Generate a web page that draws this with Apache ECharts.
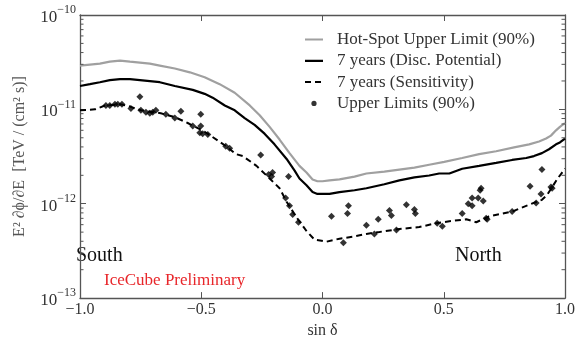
<!DOCTYPE html>
<html>
<head>
<meta charset="utf-8">
<script src="https://cdn.jsdelivr.net/npm/echarts@6/dist/echarts.min.js"></script>
<style>html,body{margin:0;padding:0;background:#fff}#c{width:578px;height:344px}</style>
</head>
<body>
<div id="c"></div>
<script>
// sin(delta), flux pairs
const hotSpotLimit = [
[-1.000,2.91e-11],[-0.959,2.98e-11],[-0.918,3.05e-11],[-0.877,3.20e-11],[-0.835,3.28e-11],[-0.794,3.20e-11],
[-0.753,3.13e-11],[-0.712,3.05e-11],[-0.671,2.91e-11],[-0.609,2.71e-11],[-0.547,2.47e-11],[-0.486,2.19e-11],
[-0.424,1.85e-11],[-0.362,1.50e-11],[-0.300,1.10e-11],[-0.259,8.67e-12],[-0.218,6.52e-12],[-0.177,4.79e-12],
[-0.136,3.44e-12],[-0.095,2.52e-12],[-0.066,2.14e-12],[-0.041,1.81e-12],[-0.021,1.73e-12],[0.000,1.73e-12],
[0.029,1.77e-12],[0.070,1.81e-12],[0.132,1.94e-12],[0.181,2.09e-12],[0.255,2.19e-12],[0.317,2.30e-12],
[0.379,2.41e-12],[0.440,2.59e-12],[0.502,2.78e-12],[0.576,3.05e-12],[0.646,3.36e-12],[0.716,3.60e-12],
[0.790,3.96e-12],[0.852,4.26e-12],[0.893,4.57e-12],[0.922,4.91e-12],[0.942,5.27e-12],[0.963,6.0e-12],
[0.979,6.52e-12],[1.000,7.17e-12]
];
const discPotential = [
[-1.000,1.77e-11],[-0.959,1.85e-11],[-0.918,1.94e-11],[-0.877,2.04e-11],[-0.835,2.09e-11],[-0.794,2.09e-11],
[-0.753,2.04e-11],[-0.712,1.99e-11],[-0.671,1.94e-11],[-0.609,1.77e-11],[-0.535,1.61e-11],[-0.486,1.46e-11],
[-0.453,1.33e-11],[-0.403,1.10e-11],[-0.362,9.77e-12],[-0.321,8.08e-12],[-0.280,6.84e-12],[-0.239,5.53e-12],
[-0.198,4.26e-12],[-0.148,2.98e-12],[-0.115,2.24e-12],[-0.095,1.85e-12],[-0.066,1.57e-12],[-0.041,1.33e-12],
[-0.021,1.27e-12],[0.000,1.27e-12],[0.029,1.27e-12],[0.070,1.33e-12],[0.132,1.39e-12],[0.181,1.46e-12],
[0.255,1.61e-12],[0.317,1.77e-12],[0.379,1.90e-12],[0.440,1.99e-12],[0.481,2.09e-12],[0.523,2.09e-12],
[0.576,2.35e-12],[0.646,2.52e-12],[0.716,2.71e-12],[0.782,2.91e-12],[0.840,3.05e-12],[0.872,3.20e-12],
[0.905,3.44e-12],[0.934,3.78e-12],[0.963,4.26e-12],[0.979,4.46e-12],[1.000,4.91e-12]
];
const sensitivity = [
[-1.000,9.77e-12],[-0.938,1.00e-11],[-0.897,1.10e-11],[-0.831,1.13e-11],[-0.794,1.07e-11],[-0.749,9.77e-12],
[-0.667,9.10e-12],[-0.609,8.27e-12],[-0.556,7.17e-12],[-0.486,5.79e-12],[-0.432,4.68e-12],[-0.391,3.96e-12],
[-0.358,3.36e-12],[-0.329,3.20e-12],[-0.272,2.52e-12],[-0.218,1.85e-12],[-0.177,1.46e-12],[-0.148,1.05e-12],
[-0.107,7.17e-13],[-0.066,5.14e-13],[-0.033,4.16e-13],[-0.004,4.06e-13],[0.016,3.96e-13],[0.070,4.26e-13],
[0.123,4.46e-13],[0.181,4.79e-13],[0.235,5.02e-13],[0.317,5.40e-13],[0.399,5.66e-13],[0.469,6.22e-13],
[0.523,6.52e-13],[0.593,6.84e-13],[0.634,6.37e-13],[0.687,7.35e-13],[0.782,8.27e-13],[0.852,9.77e-13],
[0.905,1.10e-12],[0.926,1.24e-12],[0.947,1.50e-12],[0.967,1.81e-12],[0.988,2.14e-12],[1.000,2.35e-12]
];
const upperLimits = [
[-0.893,1.10e-11],[-0.877,1.10e-11],[-0.856,1.13e-11],[-0.844,1.13e-11],[-0.827,1.13e-11],[-0.790,1.02e-11],
[-0.753,1.36e-11],[-0.749,9.77e-12],[-0.728,9.31e-12],[-0.712,9.10e-12],[-0.700,9.31e-12],[-0.687,9.77e-12],
[-0.646,8.88e-12],[-0.609,8.08e-12],[-0.584,9.54e-12],[-0.535,6.68e-12],[-0.502,8.88e-12],[-0.502,6.68e-12],
[-0.506,5.66e-12],[-0.494,5.53e-12],[-0.473,5.40e-12],[-0.399,4.06e-12],[-0.383,3.87e-12],[-0.255,3.28e-12],
[-0.222,2.04e-12],[-0.206,2.14e-12],[-0.210,1.94e-12],[-0.140,1.94e-12],[-0.152,1.15e-12],[-0.136,9.54e-13],
[-0.123,7.70e-13],[-0.099,6.37e-13],[0.037,7.35e-13],[0.103,7.89e-13],[0.107,9.54e-13],[0.086,3.87e-13],
[0.181,5.93e-13],[0.214,4.79e-13],[0.230,6.84e-13],[0.276,8.47e-13],[0.284,7.52e-13],[0.346,9.77e-13],
[0.379,8.67e-13],[0.383,7.89e-13],[0.305,5.27e-13],[0.473,6.22e-13],[0.494,5.79e-13],[0.576,7.89e-13],
[0.601,1.00e-12],[0.617,9.54e-13],[0.617,1.15e-12],[0.642,1.15e-12],[0.650,1.39e-12],[0.654,1.46e-12],
[0.663,1.07e-12],[0.675,7.00e-13],[0.679,6.84e-13],[0.782,8.27e-13],[0.856,1.53e-12],[0.881,1.02e-12],
[0.901,1.27e-12],[0.905,2.30e-12],[0.942,1.50e-12],[0.947,1.46e-12]
];
const minorTickValues = [2e-13,3e-13,4e-13,5e-13,6e-13,7e-13,8e-13,9e-13,
  2e-12,3e-12,4e-12,5e-12,6e-12,7e-12,8e-12,9e-12,
  2e-11,3e-11,4e-11,5e-11,6e-11,7e-11,8e-11,9e-11];
const names = ['Hot-Spot Upper Limit (90%)','7 years (Disc. Potential)','7 years (Sensitivity)','Upper Limits (90%)'];

const FONT = 'Liberation Serif';
const AX = '#555';
const TXT = '#333';
const chart = echarts.init(document.getElementById('c'), null, {renderer:'canvas'});
const xFmt = v => (v < 0 ? '\u2212' : '') + Math.abs(v).toFixed(1);
const yFmt = v => { const e = Math.round(Math.log10(v)); return '{b|10}{s|' + (e < 0 ? '\u2212' : '') + Math.abs(e) + '}'; };
const axLine = {show:true, onZero:false, lineStyle:{color:AX, width:1.3}};
const svgIcon = (inner) => 'image://data:image/svg+xml;charset=utf-8,' + encodeURIComponent(
  '<svg xmlns="http://www.w3.org/2000/svg" width="18" height="14" viewBox="0 0 18 14">' + inner + '</svg>');
const iconGrey = svgIcon('<line x1="0" y1="7" x2="18" y2="7" stroke="#a0a0a0" stroke-width="2.2"/>');
const iconBlack = svgIcon('<line x1="0" y1="7" x2="18" y2="7" stroke="#000" stroke-width="2.2"/>');
const iconDash = svgIcon('<line x1="0" y1="7" x2="18" y2="7" stroke="#000" stroke-width="2" stroke-dasharray="6,4"/>');
const iconDot = svgIcon('<circle cx="9" cy="7" r="2.6" fill="#000"/>');
chart.setOption({
  animation:false,
  grid:{left:80, right:12, top:15, bottom:38, containLabel:false},
  legend:{
    orient:'vertical', left:300, top:26, itemWidth:18, itemHeight:14, itemGap:4.3,
    textStyle:{fontFamily:FONT, fontSize:17, color:TXT, lineHeight:14, padding:[0,0,0,9]},
    data:[
      {name:names[0], icon:iconGrey},{name:names[1], icon:iconBlack},{name:names[2], icon:iconDash},
      {name:names[3], icon:iconDot}
    ]
  },
  xAxis:[{
    type:'value', min:-1, max:1, interval:0.5, position:'bottom',
    axisLine:axLine, splitLine:{show:false},
    axisTick:{inside:true, length:6, lineStyle:{color:AX}},
    axisLabel:{margin:4, fontFamily:FONT, fontSize:16, color:TXT, formatter:xFmt},
    name:'sin \u03b4', nameLocation:'middle', nameGap:22,
    nameTextStyle:{fontFamily:FONT, fontSize:16, color:TXT}
  },{
    type:'value', min:-1, max:1, interval:0.5, position:'top',
    axisLine:axLine, splitLine:{show:false},
    axisTick:{inside:true, length:6, lineStyle:{color:AX}}, axisLabel:{show:false}
  }],
  yAxis:[{
    type:'log', logBase:10, min:1e-13, max:1e-10, position:'left',
    axisLine:axLine, splitLine:{show:false},
    axisTick:{inside:true, length:6, lineStyle:{color:AX}},
    axisLabel:{margin:4, formatter:yFmt, rich:{
      b:{fontFamily:FONT, fontSize:17, color:TXT, lineHeight:22, verticalAlign:'bottom'},
      s:{fontFamily:FONT, fontSize:12, color:TXT, verticalAlign:'top', lineHeight:12}
    }},
    name:'E\u00b2 \u2202\u03d5/\u2202E  [TeV / (cm\u00b2 s)]', nameLocation:'middle', nameGap:52, nameRotate:90,
    nameTextStyle:{fontFamily:FONT, fontSize:16, color:'#555'}
  },{
    type:'log', logBase:10, min:1e-13, max:1e-10, position:'right',
    axisLine:axLine, splitLine:{show:false},
    axisTick:{inside:true, length:6, lineStyle:{color:AX}}, axisLabel:{show:false}
  }],
  graphic:[
    {type:'text', left:76, top:246, style:{text:'South', font:'20px "Liberation Serif"', fill:'#111'}},
    {type:'text', left:455, top:246, style:{text:'North', font:'20px "Liberation Serif"', fill:'#111'}},
    {type:'text', left:104, top:272, style:{text:'IceCube Preliminary', font:'17px "Liberation Serif"', fill:'#e8262a'}}
  ],
  series:[
    {name:names[0], type:'line', data:hotSpotLimit, symbol:'none', lineStyle:{color:'#a0a0a0', width:2.2}, itemStyle:{color:'#a0a0a0'}, z:3},
    {name:names[1], type:'line', data:discPotential, symbol:'none', lineStyle:{color:'#000', width:2.2}, itemStyle:{color:'#000'}, z:3},
    {name:names[2], type:'line', data:sensitivity, symbol:'none', lineStyle:{color:'#000', width:2, type:[6,4]}, itemStyle:{color:'#000'}, z:3},
    {name:names[3], type:'scatter', data:upperLimits, symbol:'diamond', symbolSize:[7,7], itemStyle:{color:'#000'}, z:4},
    {name:'minor', type:'custom', silent:true, z:5,
     data:minorTickValues.map(v => [-1, v]),
     renderItem:function(params, api){
       const v = api.value(1);
       const p = api.coord([-1, v]);
       const q = api.coord([1, v]);
       return {type:'group', children:[
         {type:'line', shape:{x1:p[0], y1:p[1], x2:p[0]+3.5, y2:p[1]}, style:{stroke:AX, lineWidth:1}},
         {type:'line', shape:{x1:q[0]-3.5, y1:q[1], x2:q[0], y2:q[1]}, style:{stroke:AX, lineWidth:1}}
       ]};
     }}
  ]
});
</script>
</body>
</html>
